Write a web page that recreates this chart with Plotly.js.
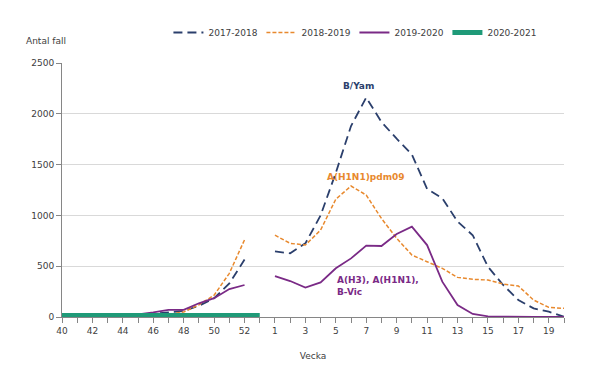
<!DOCTYPE html>
<html>
<head>
<meta charset="utf-8">
<script src="https://cdn.plot.ly/plotly-3.0.1.min.js"></script>
<style>html,body{margin:0;padding:0;background:#fff;}#chart{width:590px;height:372px;}</style>
</head>
<body>
<div id="chart"></div>
<script>
const weeks = ["40","41","42","43","44","45","46","47","48","49","50","51","52","53",
  "1","2","3","4","5","6","7","8","9","10","11","12","13","14","15","16","17","18","19","20"];
const weekLabels = ["40","","42","","44","","46","","48","","50","","52","",
  "1","","3","","5","","7","","9","","11","","13","","15","","17","","19",""];
const s2017 = [10,10,12,15,15,20,30,45,60,110,185,330,565,null,
  645,627,725,1000,1420,1880,2160,1920,1755,1600,1260,1170,940,805,495,315,167,85,52,3];
const s2018 = [5,5,5,5,8,10,15,25,50,120,215,430,760,null,
  805,725,708,856,1160,1289,1200,970,775,610,544,479,390,371,364,325,305,167,95,85];
const s2019 = [5,5,8,10,15,25,45,70,70,135,185,275,315,null,
  403,354,289,341,479,577,702,699,817,889,708,348,118,30,7,3,2,1,0,0];
const s2020 = [15,15,15,15,15,15,15,15,15,15,15,15,15,15,
  null,null,null,null,null,null,null,null,null,null,null,null,null,null,null,null,null,null,null,null];
const seriesNames = ["2017-2018","2018-2019","2019-2020","2020-2021"];

const font = "DejaVu Sans, Verdana, sans-serif";
const txt = "#404040";
const traces = [
  {x: weeks, y: s2017, name: seriesNames[0], mode: "lines", line: {color: "#2b3f6c", width: 1.8, dash: "9px,5px"}},
  {x: weeks, y: s2018, name: seriesNames[1], mode: "lines", line: {color: "#e8892e", width: 1.5, dash: "4px,2px"}},
  {x: weeks, y: s2019, name: seriesNames[2], mode: "lines", line: {color: "#7a2a86", width: 1.8}},
  {x: weeks, y: s2020, name: seriesNames[3], mode: "lines", line: {color: "#1f9a78", width: 5}}
];
const layout = {
  width: 590, height: 372,
  margin: {l: 62, r: 26, t: 63, b: 55},
  paper_bgcolor: "#fff", plot_bgcolor: "#fff",
  font: {family: font, size: 9, color: txt},
  showlegend: true,
  legend: {orientation: "h", x: 0.212, xanchor: "left", y: 1.12, yanchor: "middle",
    font: {family: font, size: 9, color: txt}, itemwidth: 30,
    entrywidth: 48, entrywidthmode: "pixels", bgcolor: "rgba(0,0,0,0)"},
  xaxis: {type: "category", range: [0, 33], tickmode: "array", tickvals: weeks, ticktext: weekLabels,
    ticks: "outside", ticklen: 5, tickcolor: "#868686", showline: true, linecolor: "#868686",
    showgrid: false, zeroline: false, tickangle: 0,
    title: {text: "Vecka", font: {family: font, size: 9, color: txt}, standoff: 17}},
  yaxis: {range: [0, 2500], dtick: 500, ticks: "outside", ticklen: 5, tickcolor: "#868686",
    showline: true, linecolor: "#868686", gridcolor: "#d9d9d9", zeroline: false},
  annotations: [
    {xref: "paper", yref: "paper", x: -0.0757, y: 1.0866, xanchor: "left", yanchor: "middle",
      text: "Antal fall", showarrow: false, font: {family: font, size: 9, color: txt}},
    {xref: "x", yref: "y", x: 19.47, y: 2275, text: "<b>B/Yam</b>", showarrow: false,
      font: {family: font, size: 9, color: "#2b3f6c"}},
    {xref: "x", yref: "y", x: 20.0, y: 1380, text: "<b>A(H1N1)pdm09</b>", showarrow: false,
      font: {family: font, size: 9, color: "#e8892e"}},
    {xref: "x", yref: "y", x: 17.96, y: 305, xanchor: "left", align: "left",
      text: "<b>A(H3), A(H1N1),<br>B-Vic</b>", showarrow: false,
      font: {family: font, size: 9, color: "#7a2a86"}}
  ]
};
Plotly.newPlot("chart", traces, layout, {displayModeBar: false, staticPlot: true});
</script>
</body>
</html>
